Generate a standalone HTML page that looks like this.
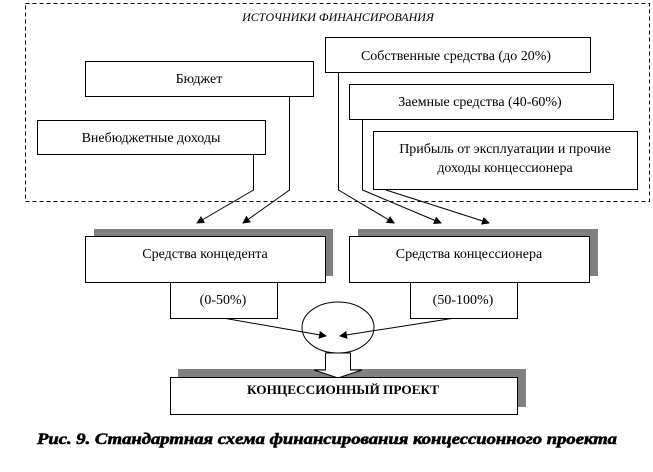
<!DOCTYPE html>
<html><head><meta charset="utf-8"><style>html,body{margin:0;padding:0;background:#fff}svg{display:block}text{font-family:"Liberation Serif","DejaVu Serif",serif}</style></head>
<body>
<svg width="653" height="472" viewBox="0 0 653 472" xmlns="http://www.w3.org/2000/svg">
<defs><marker id="a" markerWidth="8" markerHeight="8" refX="7" refY="4" orient="auto" markerUnits="userSpaceOnUse"><path d="M0,0 L8,4 L0,8 z" fill="#000"/></marker></defs>
<rect x="25.5" y="3.5" width="624" height="198" fill="none" stroke="#000" stroke-dasharray="4,3"/>
<text x="338" y="21" font-size="12" font-style="italic" text-anchor="middle">ИСТОЧНИКИ ФИНАНСИРОВАНИЯ</text>
<g fill="#fff" stroke="#000">
<rect x="325.5" y="37.5" width="265" height="35"/>
<rect x="85.5" y="61.5" width="228" height="35"/>
<rect x="349.5" y="84.5" width="264" height="35"/>
<rect x="37.5" y="120.5" width="228" height="34"/>
<rect x="373.5" y="131.5" width="264" height="58"/>
</g>
<g font-size="14" text-anchor="middle">
<text x="456" y="60">Собственные средства (до 20%)</text>
<text x="199" y="83">Бюджет</text>
<text x="480" y="106">Заемные средства (40-60%)</text>
<text x="151" y="142">Внебюджетные доходы</text>
<text x="505" y="153">Прибыль от эксплуатации и прочие</text>
<text x="505" y="172">доходы концессионера</text>
</g>
<g fill="none" stroke="#000" marker-end="url(#a)">
<polyline points="253.5,155 253.5,190 197,223"/>
<polyline points="289.5,97 289.5,190 243,223"/>
<polyline points="338.5,73 338.5,190 394,223"/>
<polyline points="362.5,120 362.5,190 441,223"/>
<polyline points="386,190 489,223"/>
<line x1="223" y1="318" x2="326" y2="336"/>
<line x1="455" y1="318" x2="340" y2="336"/>
</g>
<rect x="94" y="229" width="239" height="47" fill="#808080"/>
<rect x="358" y="229" width="240" height="47" fill="#808080"/>
<g fill="#fff" stroke="#000">
<rect x="85.5" y="236.5" width="240" height="46"/>
<rect x="349.5" y="236.5" width="240" height="46"/>
<rect x="170.5" y="282.5" width="107" height="36"/>
<rect x="410.5" y="282.5" width="107" height="36"/>
</g>
<g font-size="14" text-anchor="middle">
<text x="205" y="258">Средства концедента</text>
<text x="469" y="258">Средства концессионера</text>
<text x="223" y="304">(0-50%)</text>
<text x="463" y="304">(50-100%)</text>
</g>
<ellipse cx="338" cy="327.5" rx="36" ry="25.5" fill="none" stroke="#000"/>
<rect x="178" y="369" width="348" height="38" fill="#808080"/>
<path d="M325.5,353 L325.5,370 L314,370 L338,378 L362,370 L350.5,370 L350.5,353 z" fill="#fff" stroke="#000"/>
<rect x="170.5" y="377.5" width="347" height="37" fill="#fff" stroke="#000"/>
<text x="343" y="394" font-size="13" font-weight="bold" text-anchor="middle" textLength="192" lengthAdjust="spacingAndGlyphs">КОНЦЕССИОННЫЙ ПРОЕКТ</text>
<text x="327" y="444" font-size="16" font-weight="bold" font-style="italic" text-anchor="middle" textLength="580" lengthAdjust="spacingAndGlyphs" stroke="#000" stroke-width="0.6">Рис. 9. Стандартная схема финансирования концессионного проекта</text>
</svg>
</body></html>
